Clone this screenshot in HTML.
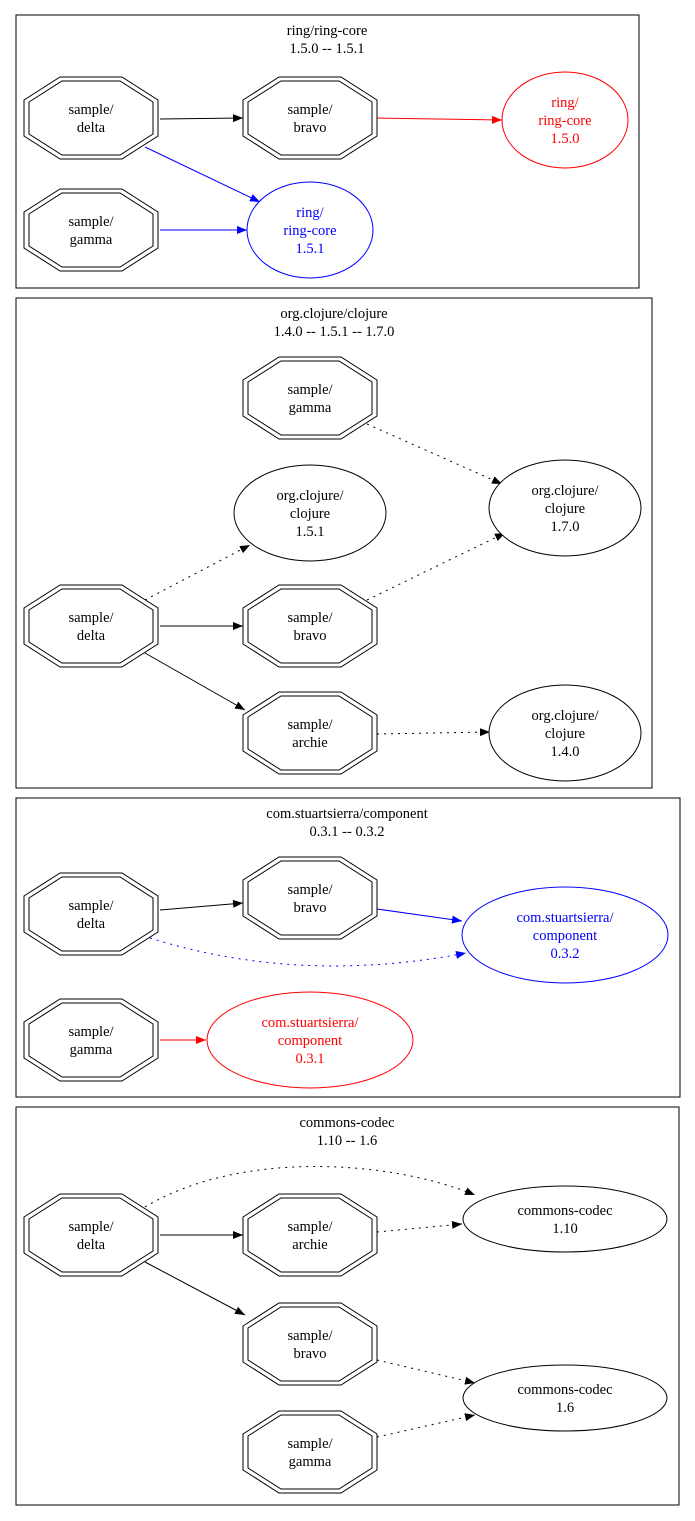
<!DOCTYPE html>
<html><head><meta charset="utf-8"><style>html,body{margin:0;padding:0;background:#fff}svg{display:block}text{font-family:"Liberation Serif",serif;font-size:14.5px;text-anchor:middle}</style></head><body>
<svg width="695" height="1521" viewBox="0 0 695 1521" xmlns="http://www.w3.org/2000/svg">
<defs>
<marker id="ak" markerWidth="10" markerHeight="8" refX="10" refY="4" orient="auto" markerUnits="userSpaceOnUse"><path d="M0,0L10,4L0,8z" fill="#000"/></marker>
<marker id="ar" markerWidth="10" markerHeight="8" refX="10" refY="4" orient="auto" markerUnits="userSpaceOnUse"><path d="M0,0L10,4L0,8z" fill="red"/></marker>
<marker id="ab" markerWidth="10" markerHeight="8" refX="10" refY="4" orient="auto" markerUnits="userSpaceOnUse"><path d="M0,0L10,4L0,8z" fill="blue"/></marker>
<g id="oct">
<polygon points="-67,-18 -31,-41 31,-41 67,-18 67,18 31,41 -31,41 -67,18" fill="#fff" stroke="#000"/>
<polygon points="-62,-16 -29,-37 29,-37 62,-16 62,16 29,37 -29,37 -62,16" fill="none" stroke="#000"/>
</g>
</defs>
<g fill="none" stroke="#000">
<rect x="16" y="15" width="623" height="273"/>
<rect x="16" y="298" width="636" height="490"/>
<rect x="16" y="798" width="664" height="299"/>
<rect x="16" y="1107" width="663" height="398"/>
</g>
<!-- edges -->
<g fill="none" stroke-width="1">
<line x1="160" y1="119" x2="243" y2="118" stroke="#000" marker-end="url(#ak)"/>
<line x1="377" y1="118" x2="502" y2="120" stroke="red" marker-end="url(#ar)"/>
<line x1="145" y1="147" x2="260" y2="202" stroke="blue" marker-end="url(#ab)"/>
<line x1="160" y1="230" x2="247" y2="230" stroke="blue" marker-end="url(#ab)"/>

<line x1="367" y1="424" x2="502" y2="484" stroke="#000" stroke-dasharray="2,5" marker-end="url(#ak)"/>
<line x1="145" y1="600" x2="250" y2="545" stroke="#000" stroke-dasharray="2,5" marker-end="url(#ak)"/>
<line x1="367" y1="600" x2="505" y2="533" stroke="#000" stroke-dasharray="2,5" marker-end="url(#ak)"/>
<line x1="160" y1="626" x2="243" y2="626" stroke="#000" marker-end="url(#ak)"/>
<line x1="145" y1="653" x2="245" y2="710" stroke="#000" marker-end="url(#ak)"/>
<line x1="377" y1="734" x2="490" y2="732" stroke="#000" stroke-dasharray="2,5" marker-end="url(#ak)"/>

<line x1="160" y1="910" x2="243" y2="903" stroke="#000" marker-end="url(#ak)"/>
<line x1="377" y1="909" x2="462" y2="921" stroke="blue" marker-end="url(#ab)"/>
<path d="M150,938 Q300,985 466,953" stroke="blue" stroke-dasharray="2,5" marker-end="url(#ab)"/>
<line x1="160" y1="1040" x2="206" y2="1040" stroke="red" marker-end="url(#ar)"/>

<path d="M145,1207 C240,1150 390,1160 475,1195" stroke="#000" stroke-dasharray="2,5" marker-end="url(#ak)"/>
<line x1="377" y1="1232" x2="462" y2="1224" stroke="#000" stroke-dasharray="2,5" marker-end="url(#ak)"/>
<line x1="160" y1="1235" x2="243" y2="1235" stroke="#000" marker-end="url(#ak)"/>
<line x1="145" y1="1262" x2="245" y2="1315" stroke="#000" marker-end="url(#ak)"/>
<line x1="377" y1="1360" x2="475" y2="1383" stroke="#000" stroke-dasharray="2,5" marker-end="url(#ak)"/>
<line x1="377" y1="1437" x2="475" y2="1415" stroke="#000" stroke-dasharray="2,5" marker-end="url(#ak)"/>
</g>
<!-- octagons -->
<use href="#oct" x="91" y="118"/><use href="#oct" x="310" y="118"/><use href="#oct" x="91" y="230"/>
<use href="#oct" x="310" y="398"/><use href="#oct" x="91" y="626"/><use href="#oct" x="310" y="626"/><use href="#oct" x="310" y="733"/>
<use href="#oct" x="91" y="914"/><use href="#oct" x="310" y="898"/><use href="#oct" x="91" y="1040"/>
<use href="#oct" x="91" y="1235"/><use href="#oct" x="310" y="1235"/><use href="#oct" x="310" y="1344"/><use href="#oct" x="310" y="1452"/>
<!-- ellipses -->
<g fill="#fff">
<ellipse cx="565" cy="120" rx="63" ry="48" stroke="red"/>
<ellipse cx="310" cy="230" rx="63" ry="48" stroke="blue"/>
<ellipse cx="565" cy="508" rx="76" ry="48" stroke="#000"/>
<ellipse cx="310" cy="513" rx="76" ry="48" stroke="#000"/>
<ellipse cx="565" cy="733" rx="76" ry="48" stroke="#000"/>
<ellipse cx="565" cy="935" rx="103" ry="48" stroke="blue"/>
<ellipse cx="310" cy="1040" rx="103" ry="48" stroke="red"/>
<ellipse cx="565" cy="1219" rx="102" ry="33" stroke="#000"/>
<ellipse cx="565" cy="1398" rx="102" ry="33" stroke="#000"/>
</g>
<!-- titles -->
<text x="327" y="35">ring/ring-core</text><text x="327" y="53">1.5.0 -- 1.5.1</text>
<text x="334" y="318">org.clojure/clojure</text><text x="334" y="336">1.4.0 -- 1.5.1 -- 1.7.0</text>
<text x="347" y="818">com.stuartsierra/component</text><text x="347" y="836">0.3.1 -- 0.3.2</text>
<text x="347" y="1127">commons-codec</text><text x="347" y="1145">1.10 -- 1.6</text>
<!-- octagon labels -->
<g>
<text x="91" y="114">sample/</text><text x="91" y="132">delta</text>
<text x="310" y="114">sample/</text><text x="310" y="132">bravo</text>
<text x="91" y="226">sample/</text><text x="91" y="244">gamma</text>
<text x="310" y="394">sample/</text><text x="310" y="412">gamma</text>
<text x="91" y="622">sample/</text><text x="91" y="640">delta</text>
<text x="310" y="622">sample/</text><text x="310" y="640">bravo</text>
<text x="310" y="729">sample/</text><text x="310" y="747">archie</text>
<text x="91" y="910">sample/</text><text x="91" y="928">delta</text>
<text x="310" y="894">sample/</text><text x="310" y="912">bravo</text>
<text x="91" y="1036">sample/</text><text x="91" y="1054">gamma</text>
<text x="91" y="1231">sample/</text><text x="91" y="1249">delta</text>
<text x="310" y="1231">sample/</text><text x="310" y="1249">archie</text>
<text x="310" y="1340">sample/</text><text x="310" y="1358">bravo</text>
<text x="310" y="1448">sample/</text><text x="310" y="1466">gamma</text>
</g>
<!-- ellipse labels -->
<g fill="red"><text x="565" y="107">ring/</text><text x="565" y="125">ring-core</text><text x="565" y="143">1.5.0</text></g>
<g fill="blue"><text x="310" y="217">ring/</text><text x="310" y="235">ring-core</text><text x="310" y="253">1.5.1</text></g>
<text x="565" y="495">org.clojure/</text><text x="565" y="513">clojure</text><text x="565" y="531">1.7.0</text>
<text x="310" y="500">org.clojure/</text><text x="310" y="518">clojure</text><text x="310" y="536">1.5.1</text>
<text x="565" y="720">org.clojure/</text><text x="565" y="738">clojure</text><text x="565" y="756">1.4.0</text>
<g fill="blue"><text x="565" y="922">com.stuartsierra/</text><text x="565" y="940">component</text><text x="565" y="958">0.3.2</text></g>
<g fill="red"><text x="310" y="1027">com.stuartsierra/</text><text x="310" y="1045">component</text><text x="310" y="1063">0.3.1</text></g>
<text x="565" y="1215">commons-codec</text><text x="565" y="1233">1.10</text>
<text x="565" y="1394">commons-codec</text><text x="565" y="1412">1.6</text>
</svg>
</body></html>
